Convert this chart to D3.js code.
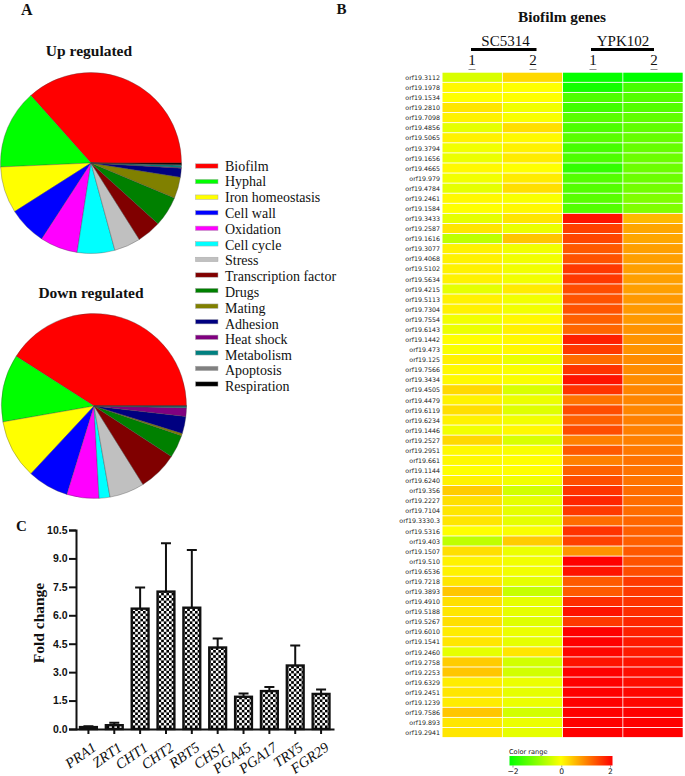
<!DOCTYPE html>
<html>
<head>
<meta charset="utf-8">
<script src="https://cdn.jsdelivr.net/npm/d3@7"></script>
<style>
  html, body { margin: 0; padding: 0; background: #fff; }
  svg { display: block; }
  text { fill: #111; }
</style>
</head>
<body>
<div id="chart"></div>
<script>
// pie categories, in legend order
var categories = ["Biofilm", "Hyphal", "Iron homeostasis", "Cell wall", "Oxidation", "Cell cycle", "Stress",
  "Transcription factor", "Drugs", "Mating", "Adhesion", "Heat shock", "Metabolism", "Apoptosis", "Respiration"];
var catColors = ["#ff0000", "#00ff00", "#ffff00", "#0000ff", "#ff00ff", "#00ffff", "#c0c0c0",
  "#800000", "#008000", "#808000", "#000080", "#800080", "#008080", "#808080", "#000000"];
var upValues = [36.5, 14.1, 8.3, 6.8, 6.7, 6.7, 4.7, 4.3, 5.4, 3.8, 1.6, 0.1, 0.4, 0.1, 0.3];
var downValues = [40.9, 11.8, 10.3, 7.2, 5.6, 1.9, 6.1, 6.9, 4.0, 0.4, 3.0, 1.5, 0.3, 0, 0];

// bar chart
var genes = ["PRA1", "ZRT1", "CHT1", "CHT2", "RBT5", "CHS1", "PGA45", "PGA17", "TRY5", "FGR29"];
var foldChange = [0.1, 0.2, 6.35, 7.25, 6.4, 4.3, 1.7, 2.0, 3.35, 1.85];
var foldErrTop = [0.15, 0.33, 7.47, 9.8, 9.45, 4.77, 1.87, 2.22, 4.4, 2.08];
var foldTicks = [0, 1.5, 3, 4.5, 6, 7.5, 9, 10.5];

// heatmap
var orfs = ["orf19.3112", "orf19.1978", "orf19.1534", "orf19.2810", "orf19.7098", "orf19.4856", "orf19.5065", "orf19.3794",
  "orf19.1656", "orf19.4665", "orf19.979", "orf19.4784", "orf19.2461", "orf19.1584", "orf19.3433", "orf19.2587",
  "orf19.1616", "orf19.3077", "orf19.4068", "orf19.5102", "orf19.5634", "orf19.4215", "orf19.5113", "orf19.7304",
  "orf19.7554", "orf19.6143", "orf19.1442", "orf19.473", "orf19.125", "orf19.7566", "orf19.3434", "orf19.4505",
  "orf19.4479", "orf19.6119", "orf19.6234", "orf19.1446", "orf19.2527", "orf19.2951", "orf19.661", "orf19.1144",
  "orf19.6240", "orf19.356", "orf19.2227", "orf19.7104", "orf19.3330.3", "orf19.5316", "orf19.403", "orf19.1507",
  "orf19.510", "orf19.6536", "orf19.7218", "orf19.3893", "orf19.4910", "orf19.5188", "orf19.5267", "orf19.6010",
  "orf19.1541", "orf19.2460", "orf19.2758", "orf19.2253", "orf19.6329", "orf19.2451", "orf19.1239", "orf19.7586",
  "orf19.893", "orf19.2941"];
var sc1 = [-0.3, 0.05, 0, 0.2, 0.1, -0.2, 0.1, -0.1, -0.15, 0.05, -0.1, -0.2, 0.05, 0, -0.2, 0.2,
  -0.5, 0.1, 0.1, 0.1, 0.1, -0.2, 0.1, 0.1, -0.1, -0.15, 0, -0.05, 0.1, 0.05, 0.05, 0.3,
  0.1, 0.25, 0.1, -0.1, 0.3, 0.05, 0.05, 0, 0.1, 0.4, 0.25, 0.2, 0.2, 0, -0.5, 0.25,
  0.1, 0.1, 0.2, 0.45, 0.25, 0.2, 0.25, 0.15, 0.2, -0.2, 0.4, 0.45, 0.15, 0.2, 0.15, 0.45, 0.2, 0.2];
var sc2 = [0.3, 0, 0, -0.1, -0.05, 0.25, 0.05, 0.1, 0.15, 0, 0.15, 0.25, -0.05, 0.05, 0.2, -0.15,
  0.45, -0.1, -0.1, -0.1, -0.1, 0.15, -0.1, -0.1, 0.05, 0.1, 0.05, 0.05, -0.15, -0.05, -0.05, -0.3,
  -0.15, -0.25, -0.1, 0.05, -0.3, -0.05, 0, 0, -0.1, -0.35, -0.2, -0.2, -0.2, -0.05, 0.4, -0.15,
  -0.1, -0.1, -0.2, -0.45, -0.2, -0.2, -0.25, -0.15, -0.2, 0.2, -0.35, -0.35, -0.15, -0.2, -0.15, -0.35, -0.15, -0.2];
var ypk1 = [-1.95, -1.85, -1.4, -1.5, -1.3, -1.4, -1.3, -1.45, -1.4, -1.6, -1.35, -1.35, -1.3, -1.35, 1.85, 1.5,
  1.45, 1.3, 1.35, 1.55, 1.55, 1.4, 1.35, 1.35, 1.25, 1.2, 1.75, 1.55, 1.15, 1.6, 1.85, 1.6,
  1.1, 1.4, 1.25, 1.4, 1.0, 1.3, 1.0, 1.25, 1.4, 1.6, 1.7, 1.55, 1.15, 1.6, 1.5, 0.85,
  2, 1.85, 1.3, 1.3, 1.65, 1.85, 1.55, 2, 2, 1.95, 1.85, 2, 2, 2, 2, 2, 2, 2];
var ypk2 = [-2, -1.45, -1.35, -1.35, -1.25, -1.25, -1.2, -1.2, -1.15, -1.15, -1.15, -1.1, -1, -1, 0.55, 0.7,
  0.7, 0.75, 0.75, 0.75, 0.75, 0.75, 0.8, 0.8, 0.8, 0.85, 0.85, 0.85, 0.9, 0.9, 0.9, 0.95,
  0.95, 0.95, 1, 1, 1, 1.05, 1.1, 1.1, 1.1, 1.15, 1.15, 1.15, 1.2, 1.25, 1.25, 1.3,
  1.35, 1.4, 1.55, 1.55, 1.6, 1.65, 1.7, 1.75, 1.8, 1.8, 1.85, 1.9, 1.9, 1.95, 1.95, 2, 2, 2];
var heatColumns = [sc1, sc2, ypk1, ypk2];
var colorTicks = [-2, 0, 2];

var serif = "'Liberation Serif', 'Times New Roman', serif";
var width = 685, height = 776;

var svg = d3.select("#chart").append("svg")
  .attr("width", width)
  .attr("height", height);

function addText(g, x, y, str, size, opts) {
  opts = opts || {};
  return g.append("text")
    .attr("x", x)
    .attr("y", y)
    .attr("text-anchor", opts.anchor || "start")
    .style("font-family", opts.family || serif)
    .style("font-size", size + "px")
    .style("font-weight", opts.weight || "normal")
    .text(str);
}

// panel letters
addText(svg, 21, 14.5, "A", 16, { weight: "bold" });
addText(svg, 336.5, 13.5, "B", 15, { weight: "bold" });
addText(svg, 16, 531, "C", 15, { weight: "bold" });

// ---- pies ----
var pie = d3.pie().sort(null).startAngle(Math.PI / 2).endAngle(Math.PI / 2 - 2 * Math.PI);

function drawPie(values, cx, cy, r, title, titleX, titleY) {
  var g = svg.append("g").attr("transform", "translate(" + cx + "," + cy + ")");
  var arc = d3.arc().innerRadius(0).outerRadius(r);
  g.selectAll("path")
    .data(pie(values))
    .enter().append("path")
    .attr("d", arc)
    .attr("fill", function (d, i) { return catColors[i]; })
    .attr("stroke", "#444")
    .attr("stroke-width", 0.35);
  addText(svg, titleX, titleY, title, 15.5, { weight: "bold", anchor: "middle" });
}
drawPie(upValues, 91, 163, 90.5, "Up regulated", 89, 56);
drawPie(downValues, 94, 406, 92.5, "Down regulated", 91, 298);

// legend, the text drifts away from the swatches a bit like in the figure
var legendY = d3.scalePoint().domain(categories).range([166, 384]);
var legend = svg.append("g");
categories.forEach(function (c, i) {
  legend.append("rect")
    .attr("x", 195.5)
    .attr("y", legendY(c) - 2.2)
    .attr("width", 22.5)
    .attr("height", 4.4)
    .attr("fill", catColors[i])
    .attr("stroke", "#aaa")
    .attr("stroke-width", 0.5);
  var textY = i <= 11 ? 170.5 + i * 15.8 : 359.5 + (i - 12) * 15.5;
  addText(legend, 225, textY, c, 14);
});

// ---- bars ----
var yBar = d3.scaleLinear().domain([0, 10.5]).range([729, 530]);
var xBar = d3.scaleBand().domain(genes).range([75.5, 334]).paddingInner(0.35).paddingOuter(0.175);

var defs = svg.append("defs");
var checks = defs.append("pattern")
  .attr("id", "checks")
  .attr("patternUnits", "userSpaceOnUse")
  .attr("width", 5.2)
  .attr("height", 5.2);
checks.append("rect").attr("width", 5.2).attr("height", 5.2).attr("fill", "#fff");
checks.append("rect").attr("width", 2.6).attr("height", 2.6).attr("fill", "#000");
checks.append("rect").attr("x", 2.6).attr("y", 2.6).attr("width", 2.6).attr("height", 2.6).attr("fill", "#000");

var barG = svg.append("g");
// error bars under the bar outline
barG.selectAll(".err")
  .data(genes)
  .enter().append("path")
  .attr("class", "err")
  .attr("d", function (d, i) {
    var cx = xBar(d) + xBar.bandwidth() / 2;
    return "M" + cx + "," + yBar(foldChange[i]) + "V" + yBar(foldErrTop[i]) + "M" + (cx - 5) + "," + yBar(foldErrTop[i]) + "H" + (cx + 5);
  })
  .attr("fill", "none")
  .attr("stroke", "#111")
  .attr("stroke-width", 2);
barG.selectAll(".bar")
  .data(genes)
  .enter().append("rect")
  .attr("class", "bar")
  .attr("x", function (d) { return xBar(d); })
  .attr("width", xBar.bandwidth())
  .attr("y", function (d, i) { return yBar(foldChange[i]); })
  .attr("height", function (d, i) { return yBar(0) - yBar(foldChange[i]); })
  .attr("fill", "url(#checks)")
  .attr("stroke", "#111")
  .attr("stroke-width", 2.4);

var yAxis = svg.append("g")
  .attr("transform", "translate(76,0)")
  .call(d3.axisLeft(yBar).tickValues(foldTicks).tickFormat(d3.format(".1f")).tickSize(7).tickPadding(1.5));
yAxis.selectAll("path, line").attr("stroke", "#111").attr("stroke-width", 2);
yAxis.selectAll("text")
  .style("font-family", "'Liberation Sans', Arial, sans-serif")
  .style("font-size", "10.5px")
  .style("font-weight", "bold");

var xAxis = svg.append("g")
  .attr("transform", "translate(0,729)")
  .call(d3.axisBottom(xBar).tickSize(5).tickSizeOuter(0));
xAxis.selectAll("path, line").attr("stroke", "#111").attr("stroke-width", 2);
xAxis.selectAll("text")
  .attr("text-anchor", "end")
  .attr("transform", "rotate(-35)")
  .attr("x", -4.7)
  .attr("y", 22)
  .attr("dy", 0)
  .style("font-family", serif)
  .style("font-style", "italic")
  .style("font-size", "14.5px");

svg.append("text")
  .attr("transform", "translate(44,623) rotate(-90)")
  .attr("text-anchor", "middle")
  .style("font-family", serif)
  .style("font-weight", "bold")
  .style("font-size", "15.5px")
  .text("Fold change");

// ---- heatmap ----
var colorScale = d3.scaleLinear().domain([-2, 0, 2]).range(["#00ff00", "#ffff00", "#ff0000"]);
var xHeat = d3.scaleBand().domain(d3.range(heatColumns.length)).range([442.5, 683.5]);
var yHeat = d3.scaleBand().domain(orfs).range([72.7, 738]);

var heat = svg.append("g");
heatColumns.forEach(function (col, c) {
  heat.selectAll(".c" + c)
    .data(col)
    .enter().append("rect")
    .attr("class", "c" + c)
    .attr("x", xHeat(c))
    .attr("y", function (d, i) { return yHeat(orfs[i]); })
    .attr("width", xHeat.bandwidth() - 0.8)
    .attr("height", yHeat.bandwidth() - 0.9)
    .attr("fill", function (d) { return colorScale(d); });
});
heat.selectAll(".lbl")
  .data(orfs)
  .enter().append("text")
  .attr("class", "lbl")
  .attr("x", 440)
  .attr("y", function (d) { return yHeat(d) + yHeat.bandwidth() / 2 + 2.2; })
  .attr("text-anchor", "end")
  .style("font-family", "'DejaVu Sans', Verdana, sans-serif")
  .style("font-size", "6.3px")
  .style("fill", "#222")
  .text(function (d) { return d; });

addText(svg, 562, 22, "Biofilm genes", 15.3, { weight: "bold", anchor: "middle" });

// name, centre, line start, line end, rep 1 x, rep 2 x
var groups = [["SC5314", 505.5, 471, 536.5, 472, 533], ["YPK102", 623, 591, 654, 593, 654]];
groups.forEach(function (g) {
  addText(svg, g[1], 46, g[0], 15, { anchor: "middle" });
  svg.append("line")
    .attr("x1", g[2]).attr("x2", g[3])
    .attr("y1", 49.5).attr("y2", 49.5)
    .attr("stroke", "#000")
    .attr("stroke-width", 3);
  [[g[4], "1"], [g[5], "2"]].forEach(function (r) {
    addText(svg, r[0], 65, r[1], 15, { anchor: "middle" });
    svg.append("line")
      .attr("x1", r[0] - 3.5).attr("x2", r[0] + 3.5)
      .attr("y1", 69.5).attr("y2", 69.5)
      .attr("stroke", "#777")
      .attr("stroke-width", 0.8);
  });
});

// colour range legend
var xColor = d3.scaleLinear().domain([-2, 2]).range([512.5, 610]);
var grad = defs.append("linearGradient").attr("id", "colorRange");
colorTicks.forEach(function (t) {
  grad.append("stop")
    .attr("offset", (t + 2) / 4)
    .attr("stop-color", colorScale(t));
});
svg.append("rect")
  .attr("x", 509.5)
  .attr("y", 756)
  .attr("width", 103)
  .attr("height", 9.5)
  .attr("fill", "url(#colorRange)");
addText(svg, 509, 753.5, "Color range", 6.6, { family: "'DejaVu Sans', Verdana, sans-serif" });
var cAxis = svg.append("g")
  .attr("transform", "translate(0,765.5)")
  .call(d3.axisBottom(xColor).tickValues(colorTicks).tickFormat(d3.format("d")).tickSize(2).tickPadding(1));
cAxis.select(".domain").remove();
cAxis.selectAll("line").attr("stroke", "#555").attr("stroke-width", 0.6);
cAxis.selectAll("text")
  .style("font-family", "'DejaVu Sans', Verdana, sans-serif")
  .style("font-size", "7.6px");
</script>
</body>
</html>
